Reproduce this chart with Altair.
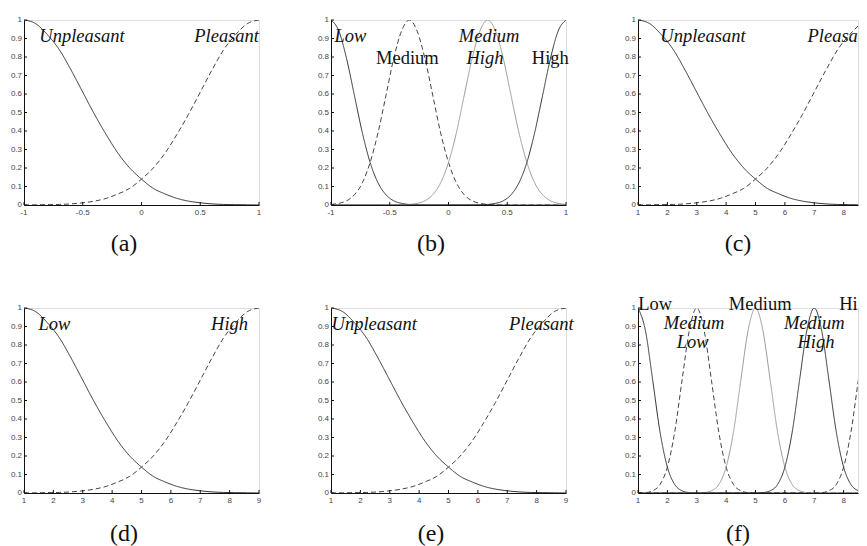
import altair as alt
import pandas as pd

# ---------------- data ----------------
x_pm1 = [-1.0, -0.9, -0.8, -0.7, -0.6, -0.5, -0.4, -0.3, -0.2, -0.1, 0.0,
         0.1, 0.2, 0.3, 0.4, 0.5, 0.6, 0.7, 0.8, 0.9, 1.0]
x_1to9 = [1.0, 1.4, 1.8, 2.2, 2.6, 3.0, 3.4, 3.8, 4.2, 4.6, 5.0,
          5.4, 5.8, 6.2, 6.6, 7.0, 7.4, 7.8, 8.2, 8.6, 9.0]
falling = [1.0, 0.98, 0.92, 0.84, 0.73, 0.61, 0.49, 0.38, 0.28, 0.20, 0.14,
           0.09, 0.06, 0.036, 0.021, 0.012, 0.006, 0.003, 0.002, 0.001, 0.0]
rising = [0.0, 0.001, 0.002, 0.003, 0.006, 0.012, 0.021, 0.036, 0.06, 0.09, 0.14,
          0.20, 0.28, 0.38, 0.49, 0.61, 0.73, 0.84, 0.92, 0.98, 1.0]

x_b = [-1.0, -0.933, -0.867, -0.8, -0.733, -0.667, -0.6, -0.533, -0.467, -0.4, -0.333,
       -0.267, -0.2, -0.133, -0.067, 0.0, 0.067, 0.133, 0.2, 0.267, 0.333,
       0.4, 0.467, 0.533, 0.6, 0.667, 0.733, 0.8, 0.867, 0.933, 1.0]
b_low = [1.0, 0.94, 0.79, 0.59, 0.39, 0.23, 0.12, 0.056, 0.023, 0.009, 0.003,
         0.001, 0, 0, 0, 0, 0, 0, 0, 0, 0,
         0, 0, 0, 0, 0, 0, 0, 0, 0, 0]
b_medium = [0.003, 0.009, 0.023, 0.056, 0.12, 0.23, 0.39, 0.59, 0.79, 0.94, 1.0,
            0.94, 0.79, 0.59, 0.39, 0.23, 0.12, 0.056, 0.023, 0.009, 0.003,
            0.001, 0, 0, 0, 0, 0, 0, 0, 0, 0]
b_medhigh = [0, 0, 0, 0, 0, 0, 0, 0, 0, 0.001, 0.003,
             0.009, 0.023, 0.056, 0.12, 0.23, 0.39, 0.59, 0.79, 0.94, 1.0,
             0.94, 0.79, 0.59, 0.39, 0.23, 0.12, 0.056, 0.023, 0.009, 0.003]
b_high = [0, 0, 0, 0, 0, 0, 0, 0, 0, 0, 0,
          0, 0, 0, 0, 0, 0, 0, 0, 0.001, 0.003,
          0.009, 0.023, 0.056, 0.12, 0.23, 0.39, 0.59, 0.79, 0.94, 1.0]

x_f = [1.0, 1.25, 1.5, 1.75, 2.0, 2.25, 2.5, 2.75, 3.0, 3.25, 3.5, 3.75, 4.0,
       4.25, 4.5, 4.75, 5.0, 5.25, 5.5, 5.75, 6.0, 6.25, 6.5, 6.75, 7.0,
       7.25, 7.5, 7.75, 8.0, 8.25, 8.5, 8.75, 9.0]
f_low = [1.0, 0.88, 0.61, 0.33, 0.14, 0.046, 0.012, 0.002, 0,
         0, 0, 0, 0, 0, 0, 0, 0, 0, 0, 0, 0, 0, 0, 0, 0, 0, 0, 0, 0, 0, 0, 0, 0]
f_medlow = [0, 0.002, 0.012, 0.046, 0.14, 0.33, 0.61, 0.88, 1.0, 0.88, 0.61, 0.33,
            0.14, 0.046, 0.012, 0.002, 0,
            0, 0, 0, 0, 0, 0, 0, 0, 0, 0, 0, 0, 0, 0, 0, 0]
f_medium = [0, 0, 0, 0, 0, 0, 0, 0,
            0, 0.002, 0.012, 0.046, 0.14, 0.33, 0.61, 0.88, 1.0, 0.88, 0.61, 0.33,
            0.14, 0.046, 0.012, 0.002, 0,
            0, 0, 0, 0, 0, 0, 0, 0]
f_medhigh = [0, 0, 0, 0, 0, 0, 0, 0, 0, 0, 0, 0, 0, 0, 0, 0,
             0, 0.002, 0.012, 0.046, 0.14, 0.33, 0.61, 0.88, 1.0, 0.88, 0.61, 0.33,
             0.14, 0.046, 0.012, 0.002, 0]
f_high = [0, 0, 0, 0, 0, 0, 0, 0, 0, 0, 0, 0, 0, 0, 0, 0, 0, 0, 0, 0, 0, 0, 0, 0,
          0, 0.002, 0.012, 0.046, 0.14, 0.33, 0.61, 0.88, 1.0]

ticks_pm1 = [-1, -0.5, 0, 0.5, 1]
ticks_19 = [1, 2, 3, 4, 5, 6, 7, 8, 9]
ticks_y = [0, 0.1, 0.2, 0.3, 0.4, 0.5, 0.6, 0.7, 0.8, 0.9, 1]

# labels: (text, x, y, italic, align)
labels_a = [("Unpleasant", -0.87, 0.88, True, "left"), ("Pleasant", 1.0, 0.88, True, "right")]
labels_b = [("Low", -0.97, 0.88, True, "left"), ("Medium", -0.35, 0.76, False, "center"),
            ("Medium", 0.346, 0.88, True, "center"), ("High", 0.31, 0.76, True, "center"),
            ("High", 0.867, 0.76, False, "center")]
labels_c = [("Unpleasant", 1.76, 0.88, True, "left"), ("Pleasant", 6.77, 0.88, True, "left")]
labels_d = [("Low", 1.49, 0.88, True, "left"), ("High", 7.37, 0.88, True, "left")]
labels_e = [("Unpleasant", 1.02, 0.88, True, "left"), ("Pleasant", 7.06, 0.88, True, "left")]
labels_f = [("Low", 1.01, 0.99, False, "left"), ("Medium", 5.16, 0.99, False, "center"),
            ("High", 7.85, 0.99, False, "left"), ("Medium", 2.91, 0.885, True, "center"),
            ("Low", 2.86, 0.785, True, "center"), ("Medium", 7.0, 0.885, True, "center"),
            ("High", 7.06, 0.785, True, "center")]

DARK = "#333333"
DASH = "#444444"
LIGHT = "#9a9a9a"
W, H = 235, 185
W_CUT = 220            # third column is cut by the window edge
PX_PER_UNIT_19 = W / 8.0
LBL_EXPR = "datum.v < 0 ? '-' + format(-datum.v, '~g') : format(datum.v, '~g')"


def panel(xs, curves, xdomain, xticks, labels, caption, width=W, cap_off=40):
    xscale = alt.Scale(domain=xdomain, nice=False, zero=False)
    yscale = alt.Scale(domain=[0, 1], nice=False)
    xt = [t for t in xticks if xdomain[0] <= t <= xdomain[1]]
    ppu = width / (xdomain[1] - xdomain[0])
    xaxis = alt.Axis(labels=False, ticks=False, title=None, grid=False, domainColor="#111")
    yaxis = alt.Axis(labels=False, ticks=False, title=None, grid=False, domainColor="#111")
    layers = []
    for vals, color, dash in curves:
        df = pd.DataFrame({"x": xs, "y": vals})
        layers.append(
            alt.Chart(df).mark_line(color=color, strokeWidth=1, interpolate="monotone",
                                    strokeDash=dash if dash else [1, 0], clip=True)
            .encode(x=alt.X("x:Q", scale=xscale, axis=xaxis),
                    y=alt.Y("y:Q", scale=yscale, axis=yaxis)))
    ydf = pd.DataFrame({"v": ticks_y})
    xdf = pd.DataFrame({"v": xt})
    # inward tick marks
    layers.append(alt.Chart(ydf).mark_rule(color="#111", strokeWidth=1)
                  .encode(y=alt.Y("v:Q", scale=yscale, axis=yaxis), x=alt.value(0), x2=alt.value(3)))
    layers.append(alt.Chart(xdf).mark_rule(color="#111", strokeWidth=1)
                  .encode(x=alt.X("v:Q", scale=xscale, axis=xaxis), y=alt.value(H), y2=alt.value(H - 3)))
    # tick labels
    layers.append(alt.Chart(ydf).transform_calculate(lbl=LBL_EXPR)
                  .mark_text(font="Liberation Sans", fontSize=8, color="#444", align="right",
                             baseline="middle")
                  .encode(y=alt.Y("v:Q", scale=yscale, axis=yaxis), x=alt.value(-2), text="lbl:N"))
    layers.append(alt.Chart(xdf).transform_calculate(lbl=LBL_EXPR)
                  .mark_text(font="Liberation Sans", fontSize=8, color="#444", align="center",
                             baseline="middle")
                  .encode(x=alt.X("v:Q", scale=xscale, axis=xaxis), y=alt.value(H + 8), text="lbl:N"))
    for text, lx, ly, ital, al in labels:
        kw = dict(text=text, font="Liberation Serif", fontSize=18.5,
                  fontStyle="italic" if ital else "normal",
                  align=al, baseline="alphabetic", color="#111")
        if al == "left" and width < W:
            lim = (xdomain[1] - lx) * ppu
            if lim < 90:
                kw.update(limit=lim, ellipsis="\u200b")
        layers.append(alt.Chart().mark_text(**kw).encode(x=alt.datum(lx), y=alt.datum(ly)))
    layers.append(alt.Chart().mark_text(text=caption, font="Liberation Serif", fontSize=24,
                                        align="center", baseline="middle", color="#111")
                  .encode(x=alt.value(100), y=alt.value(H + cap_off)))
    return alt.layer(*layers).properties(width=width, height=H)


cut_dom = [1, 1 + W_CUT / PX_PER_UNIT_19]
two = lambda: [(falling, DARK, None), (rising, DASH, [5, 3])]

pa = panel(x_pm1, two(), [-1, 1], ticks_pm1, labels_a, "(a)", cap_off=39)
pb = panel(x_b, [(b_low, DARK, None), (b_medium, DASH, [5, 3]), (b_medhigh, LIGHT, None),
                 (b_high, DARK, None)], [-1, 1], ticks_pm1, labels_b, "(b)", cap_off=39)
pc = panel(x_1to9, two(), cut_dom, ticks_19, labels_c, "(c)", width=W_CUT, cap_off=39)
pd_ = panel(x_1to9, two(), [1, 9], ticks_19, labels_d, "(d)", cap_off=41)
pe = panel(x_1to9, two(), [1, 9], ticks_19, labels_e, "(e)", cap_off=41)
pf = panel(x_f, [(f_low, DARK, None), (f_medlow, DASH, [5, 3]), (f_medium, LIGHT, None),
                 (f_medhigh, DARK, None), (f_high, DASH, [5, 3])], cut_dom, ticks_19, labels_f, "(f)",
           width=W_CUT, cap_off=41)

chart = alt.concat(pa, pb, pc, pd_, pe, pf, columns=3,
                   spacing=alt.RowColnumber(row=103, column=72), bounds="flush") \
    .properties(padding={"left": 2, "top": 7, "right": 0, "bottom": 0}) \
    .configure_view(stroke=None) \
    .configure(background="white")

chart.save("out.html", embed_options={"renderer": "svg", "actions": False})
